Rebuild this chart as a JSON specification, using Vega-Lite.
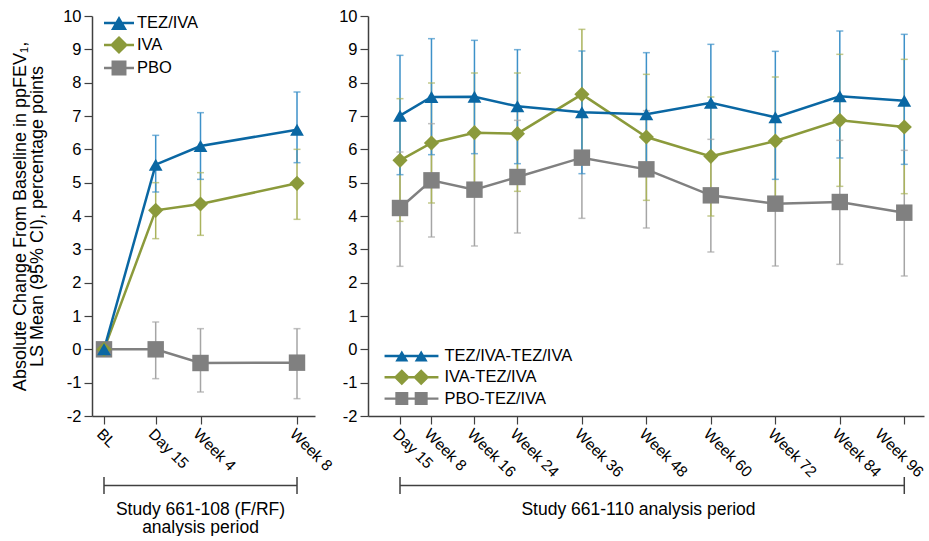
{
  "$schema": "https://vega.github.io/schema/vega-lite/v6.json",
  "background": "white",
  "padding": {"left": 11, "top": 8, "right": 0, "bottom": 0},
  "config": {
    "font": "Liberation Sans",
    "view": {"stroke": null},
    "axis": {"labelFont": "Liberation Sans", "titleFont": "Liberation Sans", "labelFontSize": 16.5, "titleFontSize": 17.5, "titleFontWeight": "normal", "labelColor": "#000000", "titleColor": "#000000", "domainColor": "#404040", "tickColor": "#404040", "domainWidth": 1.5, "tickWidth": 1.2, "tickSize": 8, "grid": false, "labelOverlap": false},
    "axisX": {"labelFontSize": 15.5},
    "axisY": {"tickCount": 12, "labelPadding": 3, "titlePadding": 16, "titleLineHeight": 17, "titleFontSize": 18, "labelExpr": "datum.value < 0 ? '-' + abs(datum.value) : '' + datum.value"},
    "legend": {"labelFont": "Liberation Sans", "labelFontSize": 16.5, "labelColor": "#000000"}
  },
  "columns": 2,
  "bounds": "flush",
  "align": "each",
  "spacing": {"row": 61, "column": 53},
  "resolve": {"scale": {"x": "independent", "y": "independent", "color": "independent", "shape": "independent", "size": "independent"}},
  "concat": [
    {
      "width": 223,
      "height": 400,
      "data": {"values": [
        {"g": "PBO", "t": 0, "m": 0},
        {"g": "PBO", "t": 15, "m": 0.0, "lo": -0.88, "hi": 0.82},
        {"g": "PBO", "t": 28, "m": -0.41, "lo": -1.28, "hi": 0.62},
        {"g": "PBO", "t": 56, "m": -0.4, "lo": -1.48, "hi": 0.62},
        {"g": "IVA", "t": 0, "m": 0},
        {"g": "IVA", "t": 15, "m": 4.17, "lo": 3.32, "hi": 5.0},
        {"g": "IVA", "t": 28, "m": 4.36, "lo": 3.42, "hi": 5.3},
        {"g": "IVA", "t": 56, "m": 4.98, "lo": 3.9, "hi": 6.0},
        {"g": "TEZ/IVA", "t": 0, "m": 0},
        {"g": "TEZ/IVA", "t": 15, "m": 5.54, "lo": 4.72, "hi": 6.42},
        {"g": "TEZ/IVA", "t": 28, "m": 6.1, "lo": 5.1, "hi": 7.1},
        {"g": "TEZ/IVA", "t": 56, "m": 6.59, "lo": 5.6, "hi": 7.72}
      ]},
      "encoding": {
        "x": {"field": "t", "type": "quantitative", "scale": {"domain": [-3.48, 61.22], "nice": false, "zero": false},
          "axis": {"values": [0, 15, 28, 56], "labelExpr": "datum.value == 0 ? 'BL' : datum.value == 15 ? 'Day 15' : 'Week ' + (datum.value / 7)", "labelAngle": 45, "labelAlign": "left", "labelBaseline": "top", "labelPadding": 2, "title": null}}
      },
      "layer": [
        {
          "layer": [
            {"mark": {"type": "rule", "strokeWidth": 1.5},
             "encoding": {
               "y": {"field": "lo", "type": "quantitative", "scale": {"domain": [-2, 10], "nice": false, "zero": false}, "title": ["Absolute Change From Baseline in ppFEV₁,", "LS Mean (95% CI), percentage points"]},
               "y2": {"field": "hi"},
               "color": {"field": "g", "type": "nominal", "scale": {"domain": ["TEZ/IVA", "IVA", "PBO"], "range": ["#3d91c9", "#aab35c", "#a5a5a5"]}, "legend": null}
             }},
            {"mark": {"type": "tick", "orient": "horizontal", "size": 7, "thickness": 1.5},
             "encoding": {
               "y": {"field": "lo", "type": "quantitative", "scale": {"domain": [-2, 10], "nice": false, "zero": false}, "title": ["Absolute Change From Baseline in ppFEV₁,", "LS Mean (95% CI), percentage points"]},
               "color": {"field": "g", "type": "nominal", "scale": {"domain": ["TEZ/IVA", "IVA", "PBO"], "range": ["#3d91c9", "#aab35c", "#a5a5a5"]}, "legend": null}
             }},
            {"mark": {"type": "tick", "orient": "horizontal", "size": 7, "thickness": 1.5},
             "encoding": {
               "y": {"field": "hi", "type": "quantitative", "scale": {"domain": [-2, 10], "nice": false, "zero": false}, "title": ["Absolute Change From Baseline in ppFEV₁,", "LS Mean (95% CI), percentage points"]},
               "color": {"field": "g", "type": "nominal", "scale": {"domain": ["TEZ/IVA", "IVA", "PBO"], "range": ["#3d91c9", "#aab35c", "#a5a5a5"]}, "legend": null}
             }}
          ]
        },
        {
          "layer": [
            {"mark": {"type": "line", "strokeWidth": 2.5},
             "encoding": {
               "y": {"field": "m", "type": "quantitative", "scale": {"domain": [-2, 10], "nice": false, "zero": false}, "title": ["Absolute Change From Baseline in ppFEV₁,", "LS Mean (95% CI), percentage points"]},
               "color": {"field": "g", "type": "nominal", "scale": {"domain": ["TEZ/IVA", "IVA", "PBO"], "range": ["#0a67a3", "#8b9a3b", "#808080"]}, "legend": null}
             }},
            {"mark": {"type": "point", "filled": true, "opacity": 1},
             "encoding": {
               "y": {"field": "m", "type": "quantitative", "scale": {"domain": [-2, 10], "nice": false, "zero": false}, "title": ["Absolute Change From Baseline in ppFEV₁,", "LS Mean (95% CI), percentage points"]},
               "color": {"field": "g", "type": "nominal", "scale": {"domain": ["TEZ/IVA", "IVA", "PBO"], "range": ["#0a67a3", "#8b9a3b", "#808080"]}, "legend": null},
               "shape": {"field": "g", "type": "nominal", "scale": {"domain": ["TEZ/IVA", "IVA", "PBO"], "range": ["triangle-up", "diamond", "square"]}, "legend": null},
               "size": {"field": "g", "type": "nominal", "scale": {"domain": ["TEZ/IVA", "IVA", "PBO"], "range": [190, 270, 190]}, "legend": null}
             }}
          ]
        },
        {
          "transform": [{"filter": "false"}],
          "mark": {"type": "point", "filled": true, "size": 484, "opacity": 1},
          "encoding": {
            "color": {"field": "lg", "type": "nominal", "scale": {"domain": ["TEZ/IVA", "IVA", "PBO"], "range": ["#0a67a3", "#8b9a3b", "#808080"]},
              "legend": {"title": null, "orient": "none", "legendX": 16, "legendY": -4, "symbolSize": 484, "symbolStrokeWidth": 0, "labelOffset": 7, "rowPadding": 2, "padding": 0}},
            "shape": {"field": "lg", "type": "nominal", "scale": {"domain": ["TEZ/IVA", "IVA", "PBO"], "range": [
                "M-1.364,-0.11H1.364V0.11H-1.364ZM0,-0.63L0.73,0.63L-0.73,0.63Z",
                "M-1.364,-0.11H1.364V0.11H-1.364ZM-0.82,0L0,-0.82L0.82,0L0,0.82Z",
                "M-1.364,-0.11H1.364V0.11H-1.364ZM-0.68,-0.68H0.68V0.68H-0.68Z"]},
              "legend": {"title": null, "orient": "none", "legendX": 16, "legendY": -4, "symbolSize": 484, "symbolStrokeWidth": 0, "labelOffset": 7, "rowPadding": 2, "padding": 0}}
          }
        }
      ],
      "resolve": {"scale": {"color": "independent", "shape": "independent"}}
    },
    {
      "width": 556,
      "height": 400,
      "data": {"values": [
        {"g": "PBO", "t": 2.142857, "m": 4.24, "lo": 2.49, "hi": 5.92},
        {"g": "PBO", "t": 8, "m": 5.07, "lo": 3.37, "hi": 6.77},
        {"g": "PBO", "t": 16, "m": 4.79, "lo": 3.10, "hi": 6.48},
        {"g": "PBO", "t": 24, "m": 5.17, "lo": 3.49, "hi": 6.87},
        {"g": "PBO", "t": 36, "m": 5.75, "lo": 3.93, "hi": 7.57},
        {"g": "PBO", "t": 48, "m": 5.40, "lo": 3.64, "hi": 7.16},
        {"g": "PBO", "t": 60, "m": 4.62, "lo": 2.92, "hi": 6.30},
        {"g": "PBO", "t": 72, "m": 4.37, "lo": 2.50, "hi": 6.24},
        {"g": "PBO", "t": 84, "m": 4.42, "lo": 2.55, "hi": 6.27},
        {"g": "PBO", "t": 96, "m": 4.10, "lo": 2.20, "hi": 5.97},
        {"g": "IVA", "t": 2.142857, "m": 5.67, "lo": 3.84, "hi": 7.52},
        {"g": "IVA", "t": 8, "m": 6.19, "lo": 4.39, "hi": 7.99},
        {"g": "IVA", "t": 16, "m": 6.50, "lo": 4.82, "hi": 8.29},
        {"g": "IVA", "t": 24, "m": 6.47, "lo": 4.74, "hi": 8.29},
        {"g": "IVA", "t": 36, "m": 7.65, "lo": 5.77, "hi": 9.60},
        {"g": "IVA", "t": 48, "m": 6.37, "lo": 4.47, "hi": 8.25},
        {"g": "IVA", "t": 60, "m": 5.79, "lo": 4.00, "hi": 7.57},
        {"g": "IVA", "t": 72, "m": 6.25, "lo": 4.22, "hi": 8.17},
        {"g": "IVA", "t": 84, "m": 6.87, "lo": 4.89, "hi": 8.85},
        {"g": "IVA", "t": 96, "m": 6.67, "lo": 4.67, "hi": 8.70},
        {"g": "TEZ/IVA", "t": 2.142857, "m": 7.01, "lo": 5.24, "hi": 8.82},
        {"g": "TEZ/IVA", "t": 8, "m": 7.57, "lo": 5.84, "hi": 9.32},
        {"g": "TEZ/IVA", "t": 16, "m": 7.58, "lo": 5.87, "hi": 9.27},
        {"g": "TEZ/IVA", "t": 24, "m": 7.29, "lo": 5.57, "hi": 8.99},
        {"g": "TEZ/IVA", "t": 36, "m": 7.11, "lo": 5.27, "hi": 8.95},
        {"g": "TEZ/IVA", "t": 48, "m": 7.05, "lo": 5.29, "hi": 8.90},
        {"g": "TEZ/IVA", "t": 60, "m": 7.40, "lo": 5.72, "hi": 9.15},
        {"g": "TEZ/IVA", "t": 72, "m": 6.96, "lo": 5.10, "hi": 8.94},
        {"g": "TEZ/IVA", "t": 84, "m": 7.59, "lo": 5.74, "hi": 9.55},
        {"g": "TEZ/IVA", "t": 96, "m": 7.46, "lo": 5.55, "hi": 9.45}
      ]},
      "encoding": {
        "x": {"field": "t", "type": "quantitative", "scale": {"domain": [-3.813, 99.67], "nice": false, "zero": false},
          "axis": {"values": [2.142857, 8, 16, 24, 36, 48, 60, 72, 84, 96], "labelExpr": "datum.value < 3 ? 'Day 15' : 'Week ' + datum.value", "labelAngle": 45, "labelAlign": "left", "labelBaseline": "top", "labelPadding": 2, "title": null,
            "labelOffset": {"condition": {"test": "datum.value > 90", "value": -22}, "value": 0}}}
      },
      "layer": [
        {
          "layer": [
            {"mark": {"type": "rule", "strokeWidth": 1.5},
             "encoding": {
               "y": {"field": "lo", "type": "quantitative", "scale": {"domain": [-2, 10], "nice": false, "zero": false}, "title": null},
               "y2": {"field": "hi"},
               "color": {"field": "g", "type": "nominal", "scale": {"domain": ["TEZ/IVA", "IVA", "PBO"], "range": ["#3d91c9", "#aab35c", "#a5a5a5"]}, "legend": null}
             }},
            {"mark": {"type": "tick", "orient": "horizontal", "size": 7, "thickness": 1.5},
             "encoding": {
               "y": {"field": "lo", "type": "quantitative", "scale": {"domain": [-2, 10], "nice": false, "zero": false}, "title": null},
               "color": {"field": "g", "type": "nominal", "scale": {"domain": ["TEZ/IVA", "IVA", "PBO"], "range": ["#3d91c9", "#aab35c", "#a5a5a5"]}, "legend": null}
             }},
            {"mark": {"type": "tick", "orient": "horizontal", "size": 7, "thickness": 1.5},
             "encoding": {
               "y": {"field": "hi", "type": "quantitative", "scale": {"domain": [-2, 10], "nice": false, "zero": false}, "title": null},
               "color": {"field": "g", "type": "nominal", "scale": {"domain": ["TEZ/IVA", "IVA", "PBO"], "range": ["#3d91c9", "#aab35c", "#a5a5a5"]}, "legend": null}
             }}
          ]
        },
        {
          "layer": [
            {"mark": {"type": "line", "strokeWidth": 2.5},
             "encoding": {
               "y": {"field": "m", "type": "quantitative", "scale": {"domain": [-2, 10], "nice": false, "zero": false}, "title": null},
               "color": {"field": "g", "type": "nominal", "scale": {"domain": ["TEZ/IVA", "IVA", "PBO"], "range": ["#0a67a3", "#8b9a3b", "#808080"]}, "legend": null}
             }},
            {"mark": {"type": "point", "filled": true, "opacity": 1},
             "encoding": {
               "y": {"field": "m", "type": "quantitative", "scale": {"domain": [-2, 10], "nice": false, "zero": false}, "title": null},
               "color": {"field": "g", "type": "nominal", "scale": {"domain": ["TEZ/IVA", "IVA", "PBO"], "range": ["#0a67a3", "#8b9a3b", "#808080"]}, "legend": null},
               "shape": {"field": "g", "type": "nominal", "scale": {"domain": ["TEZ/IVA", "IVA", "PBO"], "range": ["triangle-up", "diamond", "square"]}, "legend": null},
               "size": {"field": "g", "type": "nominal", "scale": {"domain": ["TEZ/IVA", "IVA", "PBO"], "range": [190, 270, 190]}, "legend": null}
             }}
          ]
        },
        {
          "transform": [{"filter": "false"}],
          "mark": {"type": "point", "filled": true, "size": 484, "opacity": 1},
          "encoding": {
            "color": {"field": "lg", "type": "nominal", "scale": {"domain": ["TEZ/IVA-TEZ/IVA", "IVA-TEZ/IVA", "PBO-TEZ/IVA"], "range": ["#0a67a3", "#8b9a3b", "#808080"]},
              "legend": {"title": null, "orient": "none", "legendX": 32.5, "legendY": 329, "symbolSize": 484, "symbolStrokeWidth": 0, "labelOffset": 22, "rowPadding": 1.3, "padding": 0}},
            "shape": {"field": "lg", "type": "nominal", "scale": {"domain": ["TEZ/IVA-TEZ/IVA", "IVA-TEZ/IVA", "PBO-TEZ/IVA"], "range": [
                "M-2.45,-0.11H2.45V0.11H-2.45ZM-0.88,-0.51L-0.29,0.51L-1.47,0.51ZM0.88,-0.51L1.47,0.51L0.29,0.51Z",
                "M-2.45,-0.11H2.45V0.11H-2.45ZM-1.61,0L-0.88,-0.73L-0.15,0L-0.88,0.73ZM0.15,0L0.88,-0.73L1.61,0L0.88,0.73Z",
                "M-2.45,-0.11H2.45V0.11H-2.45ZM-1.47,-0.59H-0.29V0.59H-1.47ZM0.29,-0.59H1.47V0.59H0.29Z"]},
              "legend": {"title": null, "orient": "none", "legendX": 32.5, "legendY": 329, "symbolSize": 484, "symbolStrokeWidth": 0, "labelOffset": 22, "rowPadding": 1.3, "padding": 0}}
          }
        }
      ],
      "resolve": {"scale": {"color": "independent", "shape": "independent"}}
    },
    {
      "width": 223,
      "height": 17,
      "data": {"values": [{"s": 0, "e": 56}]},
      "layer": [
        {"mark": {"type": "rule", "color": "#404040", "strokeWidth": 1.5},
         "encoding": {
           "x": {"field": "s", "type": "quantitative", "scale": {"domain": [-3.48, 61.22], "nice": false, "zero": false}, "title": ["Study 661-108 (F/RF)", "analysis period"], "axis": {"labels": false, "ticks": false, "domain": false, "titlePadding": 6, "titleLineHeight": 18.5, "titleX": 108}},
           "x2": {"field": "e"},
           "y": {"datum": 0.5, "type": "quantitative", "scale": {"domain": [0, 1]}, "axis": null}
         }},
        {"mark": {"type": "rule", "color": "#404040", "strokeWidth": 1.5},
         "encoding": {
           "x": {"field": "s", "type": "quantitative", "scale": {"domain": [-3.48, 61.22], "nice": false, "zero": false}, "title": ["Study 661-108 (F/RF)", "analysis period"], "axis": {"labels": false, "ticks": false, "domain": false, "titlePadding": 6, "titleLineHeight": 18.5, "titleX": 108}},
           "y": {"datum": 0, "type": "quantitative", "scale": {"domain": [0, 1]}, "axis": null},
           "y2": {"datum": 1}
         }},
        {"mark": {"type": "rule", "color": "#404040", "strokeWidth": 1.5},
         "encoding": {
           "x": {"field": "e", "type": "quantitative", "scale": {"domain": [-3.48, 61.22], "nice": false, "zero": false}, "title": ["Study 661-108 (F/RF)", "analysis period"], "axis": {"labels": false, "ticks": false, "domain": false, "titlePadding": 6, "titleLineHeight": 18.5, "titleX": 108}},
           "y": {"datum": 0, "type": "quantitative", "scale": {"domain": [0, 1]}, "axis": null},
           "y2": {"datum": 1}
         }}
      ]
    },
    {
      "width": 556,
      "height": 17,
      "data": {"values": [{"s": 2.142857, "e": 96}]},
      "layer": [
        {"mark": {"type": "rule", "color": "#404040", "strokeWidth": 1.5},
         "encoding": {
           "x": {"field": "s", "type": "quantitative", "scale": {"domain": [-3.813, 99.67], "nice": false, "zero": false}, "title": "Study 661-110 analysis period", "axis": {"labels": false, "ticks": false, "domain": false, "titlePadding": 6, "titleX": 270}},
           "x2": {"field": "e"},
           "y": {"datum": 0.5, "type": "quantitative", "scale": {"domain": [0, 1]}, "axis": null}
         }},
        {"mark": {"type": "rule", "color": "#404040", "strokeWidth": 1.5},
         "encoding": {
           "x": {"field": "s", "type": "quantitative", "scale": {"domain": [-3.813, 99.67], "nice": false, "zero": false}, "title": "Study 661-110 analysis period", "axis": {"labels": false, "ticks": false, "domain": false, "titlePadding": 6, "titleX": 270}},
           "y": {"datum": 0, "type": "quantitative", "scale": {"domain": [0, 1]}, "axis": null},
           "y2": {"datum": 1}
         }},
        {"mark": {"type": "rule", "color": "#404040", "strokeWidth": 1.5},
         "encoding": {
           "x": {"field": "e", "type": "quantitative", "scale": {"domain": [-3.813, 99.67], "nice": false, "zero": false}, "title": "Study 661-110 analysis period", "axis": {"labels": false, "ticks": false, "domain": false, "titlePadding": 6, "titleX": 270}},
           "y": {"datum": 0, "type": "quantitative", "scale": {"domain": [0, 1]}, "axis": null},
           "y2": {"datum": 1}
         }}
      ]
    }
  ]
}
